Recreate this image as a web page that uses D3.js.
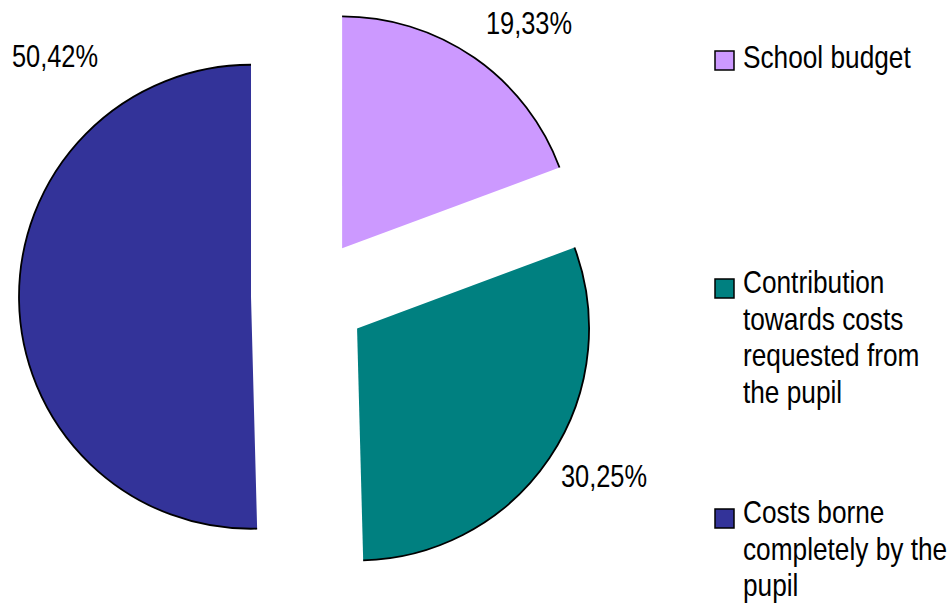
<!DOCTYPE html>
<html>
<head>
<meta charset="utf-8">
<script src="https://cdn.jsdelivr.net/npm/d3@7"></script>
<style>
  html, body { margin: 0; padding: 0; background: #fff; }
  svg { display: block; }
  text { font-family: "Liberation Sans", Arial, sans-serif; fill: #000; }
</style>
</head>
<body>
<svg id="chart" width="950" height="606"></svg>
<script>
// ---- data ----
const categories = ["School budget", "Contribution towards costs requested from the pupil", "Costs borne completely by the pupil"];
const legendLines = [["School budget"], ["Contribution", "towards costs", "requested from", "the pupil"], ["Costs borne", "completely by the", "pupil"]];
const values = [19.33, 30.25, 50.42];
const valueLabels = ["19,33%", "30,25%", "50,42%"];
const colors = ["#CC99FF", "#008080", "#333399"];

// ---- layout ----
const W = 950, H = 606;
const cx = 309, cy = 296, R = 232, explode = 58;
const sx = 0.82; // horizontal compression of the font
const labelPos = [[529, 34], [604, 487], [55, 67]];
const legendTop = [51, 279, 509];
const legendX = 715, boxSize = 19, legendTextX = 743, lineH = 36.7;

const svg = d3.select("#chart");

const pie = d3.pie().sort(null).value(d => d);
const arcs = pie(values);
const arcGen = d3.arc().innerRadius(0).outerRadius(R);
const rimGen = d3.arc().innerRadius(R).outerRadius(R);

const slices = svg.append("g").selectAll("g").data(arcs).join("g")
  .attr("transform", d => {
    const mid = (d.startAngle + d.endAngle) / 2;
    const dx = Math.sin(mid) * explode, dy = -Math.cos(mid) * explode;
    return `translate(${cx + dx},${cy + dy})`;
  });

slices.append("path")
  .attr("d", arcGen)
  .attr("fill", (d, i) => colors[i])
  .attr("stroke", "none");

slices.append("path")
  .attr("d", rimGen)
  .attr("fill", "none")
  .attr("stroke", "#000")
  .attr("stroke-width", 1.8);

// value labels
svg.append("g").selectAll("g").data(valueLabels).join("g")
  .attr("transform", (d, i) => `translate(${labelPos[i][0]},${labelPos[i][1]}) scale(${sx},1)`)
  .append("text")
  .attr("text-anchor", "middle")
  .attr("font-size", 31)
  .text(d => d);

// legend
const leg = svg.append("g").selectAll("g").data(categories).join("g")
  .attr("transform", (d, i) => `translate(0,${legendTop[i]})`);

leg.append("rect")
  .attr("x", legendX).attr("y", 0)
  .attr("width", boxSize).attr("height", boxSize)
  .attr("fill", (d, i) => colors[i])
  .attr("stroke", "#000").attr("stroke-width", 1.5);

leg.each(function(d, i) {
  const g = d3.select(this).append("g")
    .attr("transform", `translate(${legendTextX},${i === 0 ? 17 : 14}) scale(${sx},1)`);
  const t = g.append("text").attr("font-size", 32);
  legendLines[i].forEach((line, k) => {
    t.append("tspan").attr("x", 0).attr("y", k * lineH).text(line);
  });
});
</script>
</body>
</html>
